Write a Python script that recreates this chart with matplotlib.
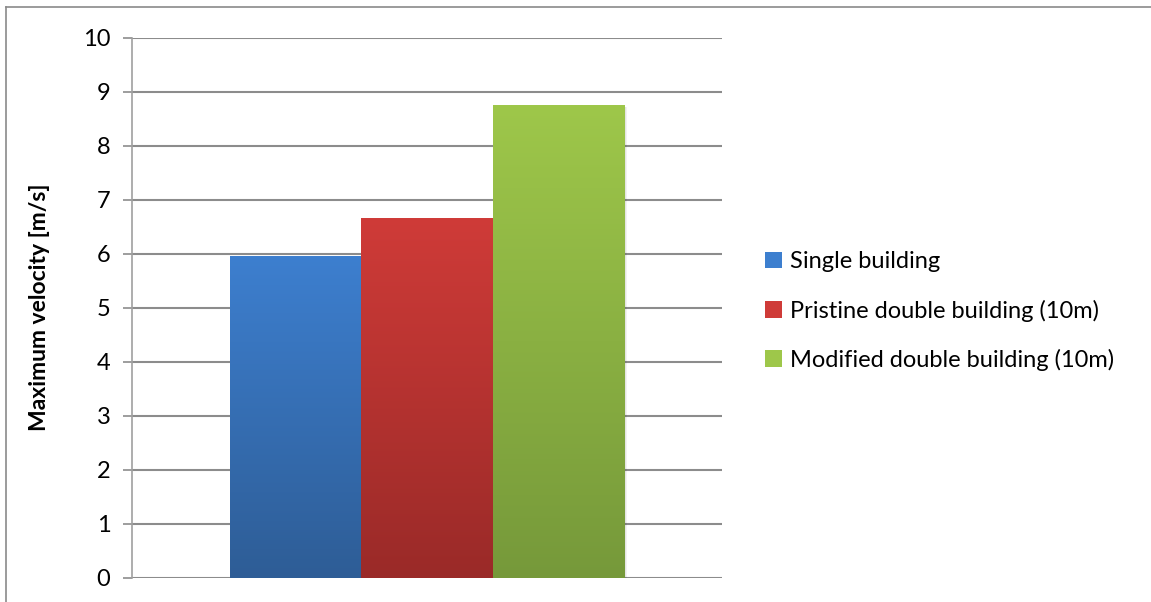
import numpy as np
import matplotlib.pyplot as plt
from matplotlib.patches import Patch
from matplotlib.lines import Line2D
import matplotlib.patheffects as pe

plt.rcParams['font.family'] = ['Lato', 'DejaVu Sans']

series = ["Single building", "Pristine double building (10m)", "Modified double building (10m)"]
values = [5.96, 6.66, 8.75]
top_colors = ["#3d7fcf", "#cf3b38", "#9ec74a"]
bottom_colors = ["#2e5d96", "#9a2a28", "#76993a"]
yticks = list(range(0, 11))

fig = plt.figure(figsize=(11.51, 6.02), dpi=100)
ax = fig.add_axes([0.1147, 0.0404, 0.5126, 0.897])

bar_w = 1 / 4.5
offsets = [-bar_w, 0, bar_w]

for val, off, c_top, c_bot in zip(values, offsets, top_colors, bottom_colors):
    bar = ax.bar(off, val, width=bar_w, facecolor="none", edgecolor="none", zorder=3)[0]
    bar.set_path_effects(
        [pe.SimplePatchShadow(offset=(k, -k * 0.6), alpha=0.05, shadow_rgbFace="k") for k in (0.6, 1.2, 1.8, 2.4)]
    )
    c1 = np.array(plt.matplotlib.colors.to_rgb(c_top))
    c2 = np.array(plt.matplotlib.colors.to_rgb(c_bot))
    t = np.linspace(0, 1, 256)[:, None]
    grad = (c1 * (1 - t) + c2 * t)[:, None, :]
    im = ax.imshow(grad, extent=[off - bar_w / 2, off + bar_w / 2, 0, val],
                   aspect="auto", zorder=4, interpolation="bilinear")
    im.set_clip_path(bar)

ax.set_xlim(-0.5, 0.5)
ax.set_ylim(0, 10)
ax.set_yticks(yticks)
ax.set_xticks([])
ax.yaxis.grid(True, color="#8c8c8c", linewidth=1.5, zorder=1)
ax.set_axisbelow(True)
for s in ["top", "right", "bottom"]:
    ax.spines[s].set_visible(False)
ax.spines["left"].set_color("#a0a0a0")
ax.spines["left"].set_linewidth(1.2)
ax.tick_params(axis="y", length=6.5, width=1.2, color="#8c8c8c", labelsize=17, pad=9)
ax.set_ylabel("Maximum velocity [m/s]", fontsize=16.5, fontweight="bold", labelpad=24)

handles = [Patch(facecolor=c, edgecolor="none") for c in top_colors]
leg = fig.legend(handles, series, loc="center left", bbox_to_anchor=(0.6463, 0.483),
                 frameon=False, fontsize=17, handlelength=0.7, handleheight=0.7,
                 handletextpad=0.35, labelspacing=1.15)

# chart area border
fig.add_artist(Line2D([6 / 1151, 6 / 1151], [0, 1 - 7 / 602], color="#8a8a8a", linewidth=1.2))
fig.add_artist(Line2D([6 / 1151, 1], [1 - 7 / 602, 1 - 7 / 602], color="#8a8a8a", linewidth=1.2))

fig.savefig("out.png", dpi=100)
